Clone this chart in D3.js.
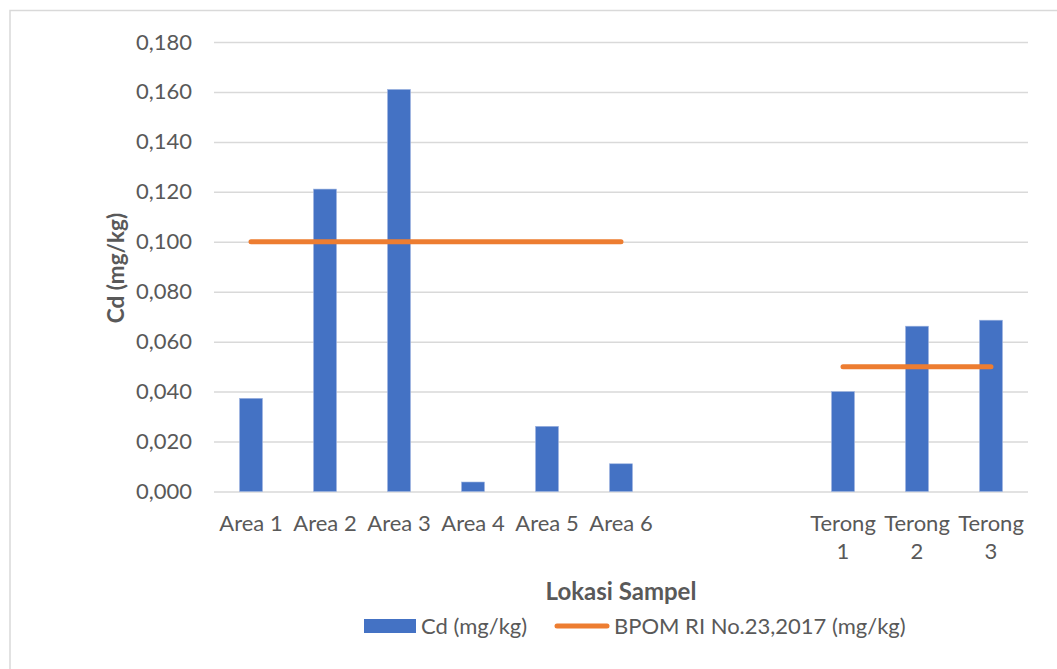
<!DOCTYPE html>
<html>
<head>
<meta charset="utf-8">
<script src="https://cdn.jsdelivr.net/npm/d3@7"></script>
<style>
  html, body { margin: 0; padding: 0; background: #fff; }
  svg { display: block; }
  text { font-family: Lato, "Open Sans", sans-serif; fill: #595959; }
</style>
</head>
<body>
<svg id="chart" width="1057" height="669"></svg>
<script>
// Sample locations (two empty slots separate the field areas from the eggplant samples)
const categories = ["Area 1", "Area 2", "Area 3", "Area 4", "Area 5", "Area 6", "", "", "Terong 1", "Terong 2", "Terong 3"];
// Measured cadmium content, mg/kg
const cdValues = [0.0373, 0.1211, 0.161, 0.0038, 0.0261, 0.0111, null, null, 0.040, 0.0662, 0.0686];
// Regulatory limit (BPOM RI No.23, 2017), mg/kg
const limitValues = [0.1, 0.1, 0.1, 0.1, 0.1, 0.1, null, null, 0.05, 0.05, 0.05];
// Value axis ticks
const yTicks = [0, 0.02, 0.04, 0.06, 0.08, 0.10, 0.12, 0.14, 0.16, 0.18];

const seriesNames = ["Cd (mg/kg)", "BPOM RI No.23,2017 (mg/kg)"];
const xTitle = "Lokasi Sampel";
const yTitle = "Cd (mg/kg)";

const BLUE = "#4472C4", ORANGE = "#ED7D31", GRID = "#d9d9d9";

const svg = d3.select("#chart");
const margin = { left: 214, right: 1028, top: 42, bottom: 491.5 };

// Outer chart frame
svg.append("rect")
  .attr("x", 10).attr("y", 10.5)
  .attr("width", 1100).attr("height", 700)
  .attr("fill", "none").attr("stroke", GRID).attr("stroke-width", 1.5);

const x = d3.scaleBand()
  .domain(d3.range(categories.length))
  .range([margin.left, margin.right])
  .paddingInner(0.69)
  .paddingOuter(0.345);

const y = d3.scaleLinear()
  .domain([0, 0.18])
  .range([margin.bottom, margin.top]);

const fmt = v => d3.format(".3f")(v).replace(".", ",");

// Horizontal gridlines + value labels
const yAxis = svg.append("g")
  .attr("transform", `translate(${margin.left},0)`)
  .call(d3.axisLeft(y).tickValues(yTicks).tickFormat(fmt)
    .tickSize(-(margin.right - margin.left)).tickPadding(22));
yAxis.select(".domain").remove();
yAxis.selectAll(".tick line").attr("stroke", GRID).attr("stroke-width", 1.5);
yAxis.selectAll(".tick text")
  .attr("font-size", 22).attr("fill", "#595959")
  .style("font-family", "Lato, 'Open Sans', sans-serif");

// Bars
svg.append("g").selectAll("rect")
  .data(cdValues.map((v, i) => ({ v, i })).filter(d => d.v != null))
  .join("rect")
  .attr("x", d => x(d.i))
  .attr("width", x.bandwidth())
  .attr("y", d => y(d.v))
  .attr("height", d => y(0) - y(d.v))
  .attr("fill", BLUE)
  .attr("stroke", "#9db4e0").attr("stroke-width", 0.6);

// Limit line, broken where there is no value
const line = d3.line()
  .defined(d => d != null)
  .x((d, i) => x(i) + x.bandwidth() / 2)
  .y(d => y(d));
svg.append("path")
  .datum(limitValues)
  .attr("d", line)
  .attr("fill", "none")
  .attr("stroke", ORANGE)
  .attr("stroke-width", 5)
  .attr("stroke-linecap", "round")
  .attr("stroke-linejoin", "round");

// Category labels, wrapped onto two lines when wider than the slot
const xLabels = svg.append("g");
categories.forEach((c, i) => {
  if (!c) return;
  const cx = x(i) + x.bandwidth() / 2;
  const t = xLabels.append("text")
    .attr("x", cx).attr("y", 531)
    .attr("text-anchor", "middle").attr("font-size", 22)
    .text(c);
  if (t.node().getComputedTextLength() > x.step()) {
    t.text(null);
    c.split(" ").forEach((w, k) => {
      t.append("tspan").attr("x", cx).attr("y", 531 + k * 28).text(w);
    });
  }
});

// Axis titles
svg.append("text")
  .attr("x", 621).attr("y", 600)
  .attr("text-anchor", "middle")
  .attr("font-size", 24).attr("font-weight", "bold")
  .text(xTitle);

svg.append("text")
  .attr("transform", "translate(124,268) rotate(-90)")
  .attr("text-anchor", "middle")
  .attr("font-size", 22.5).attr("font-weight", "bold")
  .text(yTitle);

// Legend
const lg = svg.append("g");
lg.append("rect")
  .attr("x", 364).attr("y", 619).attr("width", 52).attr("height", 14)
  .attr("fill", BLUE);
lg.append("text")
  .attr("x", 421).attr("y", 634).attr("font-size", 22)
  .text(seriesNames[0]);
lg.append("line")
  .attr("x1", 557).attr("x2", 607).attr("y1", 626).attr("y2", 626)
  .attr("stroke", ORANGE).attr("stroke-width", 5).attr("stroke-linecap", "round");
lg.append("text")
  .attr("x", 614).attr("y", 634).attr("font-size", 22)
  .text(seriesNames[1]);
</script>
</body>
</html>
